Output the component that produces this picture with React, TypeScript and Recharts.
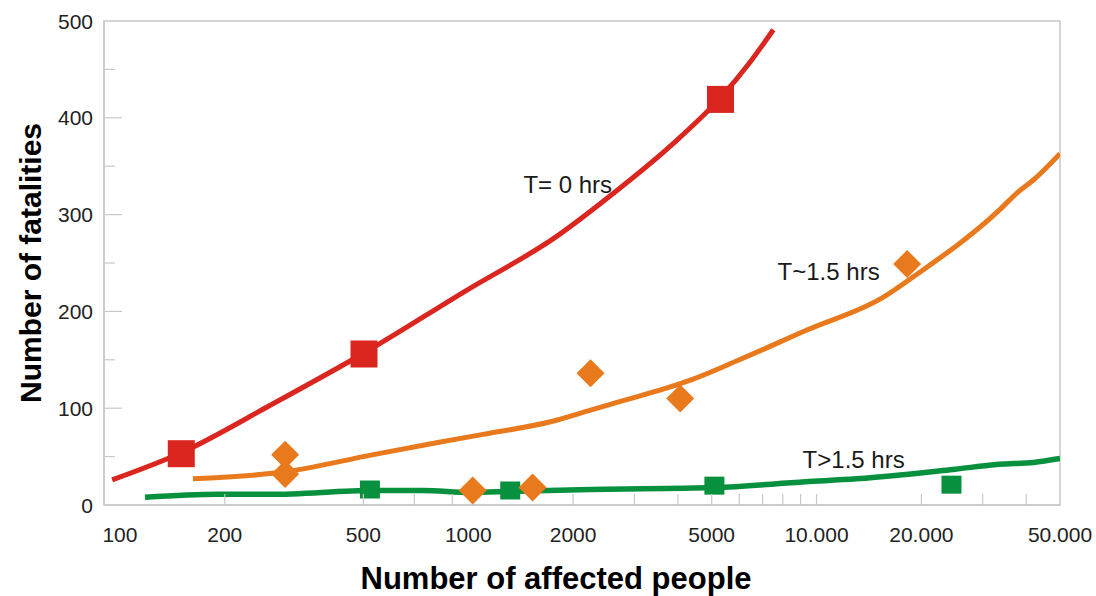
import React from "react";
import {
  ComposedChart,
  Line,
  Scatter,
  XAxis,
  YAxis,
  ReferenceArea,
  ReferenceDot,
} from "recharts";

// axis ticks
const xLabelValues = [100, 200, 500, 1000, 2000, 5000, 10000, 20000, 50000];
const xMinorTicks = [
  200, 500, 700, 900, 2000, 3000, 4000, 5000, 6000, 7000, 8000, 9000, 10000,
  20000, 30000, 40000,
];
const yTickValues = [0, 50, 100, 150, 200, 250, 300, 350, 400, 450, 500];
const yLabelValues = [0, 100, 200, 300, 400, 500];

// T = 0 hrs
const redCurveX = [95, 150, 270, 502, 981, 1803, 2611, 3810, 5275, 6457, 7515];
const redCurveY = [26, 54, 103, 157, 221, 278, 322, 371, 420, 458, 491];
const redPointsX = [150, 502, 5300];
const redPointsY = [53, 156, 419];

// T ~ 1.5 hrs
const orangeCurveX = [162, 294, 534, 832, 1104, 1722, 2244, 2735, 4345, 6000, 9420, 15600, 19000, 33100, 37800, 42000, 50000];
const orangeCurveY = [27, 34, 52, 65, 73, 86, 98, 107, 129, 150, 181, 215, 236, 303, 323, 336, 363];
const orangePointsX = [298, 298, 1030, 1530, 2244, 4060, 18200];
const orangePointsY = [52, 32, 15, 18, 136, 110, 249];

// T > 1.5 hrs
const greenCurveX = [118, 190, 270, 534, 742, 1012, 1321, 2244, 5100, 9290, 13000, 17400, 25000, 33400, 42000, 50000];
const greenCurveY = [8, 11, 11, 15, 15, 13, 14, 16, 18, 24, 27, 31, 37, 42, 44, 48];
const greenPointsX = [522, 1320, 5090, 24400];
const greenPointsY = [16, 15, 20, 21];

const seriesLabels = [
  { text: "T= 0 hrs", x: 1440, y: 331 },
  { text: "T~1.5 hrs", x: 7730, y: 241 },
  { text: "T>1.5 hrs", x: 9120, y: 47 },
];

const RED = "#da261e";
const ORANGE = "#e8791c";
const GREEN = "#07913f";
const FRAME = "#c8c8c8";
const FONT = "'Liberation Sans', Arial, sans-serif";

const zip = (xs: number[], ys: number[]) => xs.map((x, i) => ({ x, y: ys[i] }));

const redCurve = zip(redCurveX, redCurveY);
const redPoints = zip(redPointsX, redPointsY);
const orangeCurve = zip(orangeCurveX, orangeCurveY);
const orangePoints = zip(orangePointsX, orangePointsY);
const greenCurve = zip(greenCurveX, greenCurveY);
const greenPoints = zip(greenPointsX, greenPointsY);

const xTicks = Array.from(new Set([...xLabelValues, ...xMinorTicks])).sort(
  (a, b) => a - b
);

const formatX = (v: number) =>
  v >= 10000 ? `${Math.floor(v / 1000)}.${String(v % 1000).padStart(3, "0")}` : `${v}`;

const XTick = (props: any) => {
  const { x, y, payload } = props;
  const v = payload.value;
  return (
    <g>
      {xMinorTicks.includes(v) && (
        <line x1={x} x2={x} y1={y} y2={y - 11} stroke={FRAME} strokeWidth={1.2} />
      )}
      {xLabelValues.includes(v) && (
        <text
          x={x}
          y={y + 29}
          textAnchor="middle"
          dominantBaseline="central"
          fontSize={21}
          fontFamily={FONT}
          fill="#222"
        >
          {formatX(v)}
        </text>
      )}
    </g>
  );
};

const YTick = (props: any) => {
  const { x, y, payload } = props;
  const v = payload.value;
  const major = yLabelValues.includes(v);
  const len = v === 0 || v === 500 ? 0 : major ? 18 : 11;
  return (
    <g>
      {len > 0 && (
        <line x1={x} x2={x + len} y1={y} y2={y} stroke={FRAME} strokeWidth={1.2} />
      )}
      {major && (
        <text
          x={x - 11}
          y={y}
          textAnchor="end"
          dominantBaseline="central"
          fontSize={21}
          fontFamily={FONT}
          fill="#222"
        >
          {v}
        </text>
      )}
    </g>
  );
};

const Square = (size: number, h: number, color: string) => (props: any) => {
  const { cx, cy } = props;
  return <rect x={cx - size / 2} y={cy - h / 2} width={size} height={h} fill={color} />;
};

const Diamond = (props: any) => {
  const { cx, cy } = props;
  const r = 14;
  return (
    <polygon
      points={`${cx},${cy - r} ${cx + r},${cy} ${cx},${cy + r} ${cx - r},${cy}`}
      fill={ORANGE}
    />
  );
};

export default function App() {
  return (
    <div style={{ position: "absolute", left: 0, top: 0, background: "#fff" }}>
      <ComposedChart
        width={1096}
        height={596}
        margin={{ top: 21, right: 36, bottom: 31, left: 4 }}
      >
        <XAxis
          dataKey="x"
          type="number"
          scale="log"
          domain={[90, 50000]}
          allowDataOverflow
          ticks={xTicks}
          interval={0}
          tick={<XTick />}
          tickSize={0}
          tickMargin={0}
          tickLine={false}
          axisLine={{ stroke: FRAME, strokeWidth: 1.5 }}
          height={60}
          label={{
            content: (p: any) => {
              const vb = p.viewBox;
              return (
                <text
                  x={vb.x + vb.width / 2 - 26}
                  y={vb.y + 73}
                  textAnchor="middle"
                  dominantBaseline="central"
                  fontSize={31}
                  fontWeight="bold"
                  fontFamily={FONT}
                  fill="#000"
                >
                  Number of affected people
                </text>
              );
            },
          }}
        />
        <YAxis
          dataKey="y"
          type="number"
          domain={[0, 500]}
          ticks={yTickValues}
          interval={0}
          tick={<YTick />}
          tickSize={0}
          tickMargin={0}
          tickLine={false}
          axisLine={{ stroke: FRAME, strokeWidth: 1.5 }}
          width={100}
          label={{
            content: (p: any) => {
              const vb = p.viewBox;
              const cx = vb.x + 26;
              const cy = vb.y + vb.height / 2;
              return (
                <text
                  x={cx}
                  y={cy}
                  transform={`rotate(-90 ${cx} ${cy})`}
                  textAnchor="middle"
                  dominantBaseline="central"
                  fontSize={30}
                  fontWeight="bold"
                  fontFamily={FONT}
                  fill="#000"
                >
                  Number of fatalities
                </text>
              );
            },
          }}
        />
        <ReferenceArea
          x1={90}
          x2={50000}
          y1={0}
          y2={500}
          fill="none"
          stroke={FRAME}
          strokeWidth={1.5}
          ifOverflow="visible"
        />
        <Line
          data={redCurve}
          dataKey="y"
          type="monotone"
          stroke={RED}
          strokeWidth={5}
          dot={false}
          activeDot={false}
          isAnimationActive={false}
        />
        <Line
          data={orangeCurve}
          dataKey="y"
          type="monotone"
          stroke={ORANGE}
          strokeWidth={5}
          dot={false}
          activeDot={false}
          isAnimationActive={false}
        />
        <Line
          data={greenCurve}
          dataKey="y"
          type="monotone"
          stroke={GREEN}
          strokeWidth={5.5}
          dot={false}
          activeDot={false}
          isAnimationActive={false}
        />
        <Scatter
          data={greenPoints}
          dataKey="y"
          shape={Square(20, 18, GREEN)}
          isAnimationActive={false}
        />
        <Scatter data={orangePoints} dataKey="y" shape={Diamond} isAnimationActive={false} />
        <Scatter
          data={redPoints}
          dataKey="y"
          shape={Square(27, 27, RED)}
          isAnimationActive={false}
        />
        {seriesLabels.map((s) => (
          <ReferenceDot
            key={s.text}
            x={s.x}
            y={s.y}
            r={0}
            fill="none"
            stroke="none"
            label={{
              content: (p: any) => {
                const vb = p.viewBox;
                return (
                  <text
                    x={vb.x}
                    y={vb.y}
                    dominantBaseline="central"
                    fontSize={24}
                    fontFamily={FONT}
                    fill="#1a1a1a"
                  >
                    {s.text}
                  </text>
                );
              },
            }}
          />
        ))}
      </ComposedChart>
    </div>
  );
}
